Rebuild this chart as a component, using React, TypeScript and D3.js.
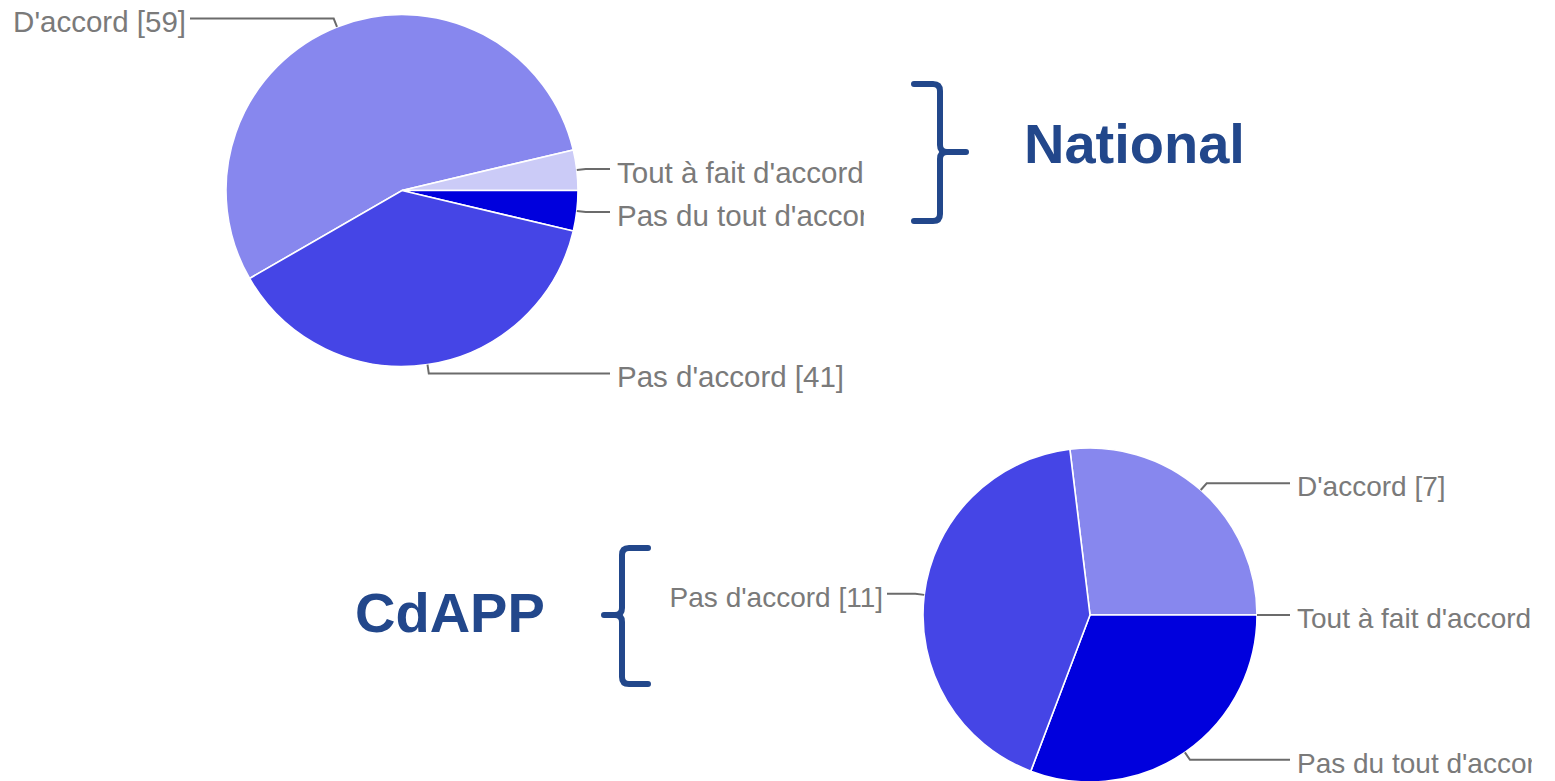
import React from "react";
import * as d3 from "d3";

const categories = ["D'accord", "Tout à fait d'accord", "Pas du tout d'accord", "Pas d'accord"];
const nationalValues = [59, 4, 4, 41];
const cdappValues = [7, 0, 8, 11];
const sliceColors = ["#8787ee", "#cbcbf7", "#0000dd", "#4545e6"];
const groupTitles = ["National", "CdAPP"];

const W = 1555;
const H = 781;
const TITLE_COLOR = "#22478b";

type PieProps = {
  id: string;
  cx: number;
  cy: number;
  r: number;
  values: number[];
  fontSize: number;
  leftTextX: number;
  rightTextX: number;
  clipRight: number;
};

function PieChart({ id, cx, cy, r, values, fontSize, leftTextX, rightTextX, clipRight }: PieProps) {
  const total = d3.sum(values);
  const start = Math.PI / 2 - (2 * Math.PI * (values[0] + values[1])) / total;
  const pie = d3
    .pie<number>()
    .sort(null)
    .value((d) => d)
    .startAngle(start)
    .endAngle(start + 2 * Math.PI);
  const arcs = pie(values);
  const arcGen = d3.arc<d3.PieArcDatum<number>>().innerRadius(0).outerRadius(r);

  return (
    <g>
      <defs>
        <clipPath id={id}>
          <rect x={0} y={0} width={clipRight} height={H} />
        </clipPath>
      </defs>
      <g transform={`translate(${cx},${cy})`}>
        {arcs.map((a, i) =>
          a.value > 0 ? (
            <path key={i} d={arcGen(a) || ""} fill={sliceColors[i]} stroke="#ffffff" strokeWidth={1.6} />
          ) : null
        )}
      </g>
      <g clipPath={`url(#${id})`}>
        {arcs.map((a, i) => {
          const mid = (a.startAngle + a.endAngle) / 2;
          const sx = cx + r * Math.sin(mid);
          const sy = cy - r * Math.cos(mid);
          const ex = cx + (r + 9) * Math.sin(mid);
          const ey = cy - (r + 9) * Math.cos(mid);
          const right = Math.sin(mid) >= -1e-6;
          const lineEnd = right ? rightTextX - 7 : leftTextX + 4;
          const label = `${categories[i]} [${values[i]}]`;
          return (
            <g key={i}>
              <polyline
                points={`${sx},${sy} ${ex},${ey} ${lineEnd},${ey}`}
                fill="none"
                stroke="#6b6b6b"
                strokeWidth={2}
              />
              <text
                x={right ? rightTextX : leftTextX}
                y={ey}
                dy="0.46em"
                textAnchor={right ? "start" : "end"}
                fontFamily="'Liberation Sans', Arial, sans-serif"
                fontSize={fontSize}
                fill="#7a7a7a"
              >
                {label}
              </text>
            </g>
          );
        })}
      </g>
    </g>
  );
}

function Brace({ x, top, bottom, tipX, midY, color }: { x: number; top: number; bottom: number; tipX: number; midY: number; color: string }) {
  const dir = tipX > x ? 1 : -1;
  const endX = x - dir * 26;
  const c = 7;
  const d = [
    `M${endX},${top}`,
    `L${x - dir * c},${top}`,
    `Q${x},${top} ${x},${top + c}`,
    `L${x},${midY - c}`,
    `Q${x},${midY} ${x + dir * c},${midY}`,
    `L${tipX},${midY}`,
    `M${x + dir * c},${midY}`,
    `Q${x},${midY} ${x},${midY + c}`,
    `L${x},${bottom - c}`,
    `Q${x},${bottom} ${x - dir * c},${bottom}`,
    `L${endX},${bottom}`,
  ].join(" ");
  return <path d={d} fill="none" stroke={color} strokeWidth={6} strokeLinecap="round" strokeLinejoin="round" />;
}

export default function App() {
  return (
    <svg
      width={W}
      height={H}
      viewBox={`0 0 ${W} ${H}`}
      style={{ position: "absolute", left: 0, top: 0, display: "block", background: "#ffffff" }}
    >
      <rect x={0} y={0} width={W} height={H} fill="#ffffff" />
      <PieChart
        id="clipNational"
        cx={402}
        cy={190.5}
        r={176}
        values={nationalValues}
        fontSize={29.5}
        leftTextX={186}
        rightTextX={617}
        clipRight={864}
      />
      <PieChart
        id="clipCdapp"
        cx={1090}
        cy={615}
        r={167}
        values={cdappValues}
        fontSize={28}
        leftTextX={883}
        rightTextX={1297}
        clipRight={1532}
      />
      <Brace x={940} top={84} bottom={221} tipX={966} midY={152} color={TITLE_COLOR} />
      <text
        x={1024}
        y={163}
        fontFamily="'Liberation Sans', Arial, sans-serif"
        fontWeight="bold"
        fontSize={56}
        fill={TITLE_COLOR}
      >
        {groupTitles[0]}
      </text>
      <Brace x={622} top={548} bottom={684} tipX={604} midY={615} color={TITLE_COLOR} />
      <text
        x={355}
        y={632}
        fontFamily="'Liberation Sans', Arial, sans-serif"
        fontWeight="bold"
        fontSize={56}
        fill={TITLE_COLOR}
      >
        {groupTitles[1]}
      </text>
    </svg>
  );
}
